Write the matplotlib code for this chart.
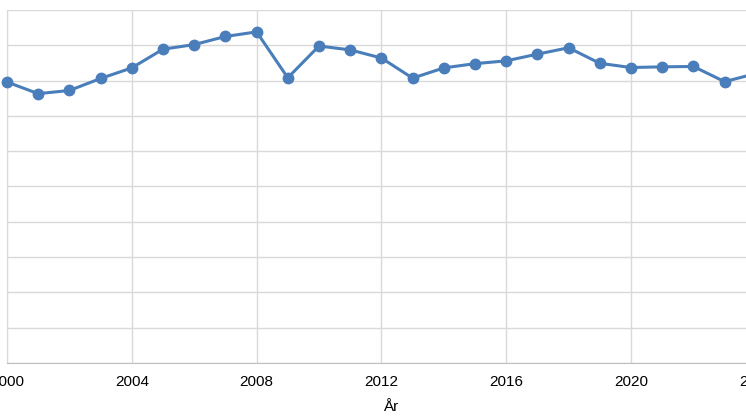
import matplotlib.pyplot as plt
from matplotlib.ticker import MultipleLocator, NullFormatter

# Data (relative units, 0-100 scale)
years = list(range(2000, 2025))
values = [79.6, 76.3, 77.2, 80.6, 83.6, 88.9, 90.2, 92.5, 93.8, 80.8,
          89.8, 88.7, 86.4, 80.7, 83.6, 84.8, 85.6, 87.5, 89.3, 84.9,
          83.7, 83.9, 84.0, 79.7, 82.0]

W, H = 746, 419
fig = plt.figure(figsize=(W / 100, H / 100), dpi=100)

# axes run off the right edge, like the cropped reference
px_per_year = 31.2
xmax = 2024.6
ax = fig.add_axes([7 / W, 56 / H, (xmax - 2000) * px_per_year / W, 353 / H])

ax.plot(years, values, color="#4a7ebb", linewidth=2.2, marker="o",
        markersize=7.5, markerfacecolor="#4a7ebb", markeredgecolor="#4a7ebb",
        zorder=3, clip_on=False)

ax.set_xlim(2000, xmax)
ax.set_ylim(0, 100)
ax.xaxis.set_major_locator(MultipleLocator(4))
ax.yaxis.set_major_locator(MultipleLocator(10))
ax.yaxis.set_major_formatter(NullFormatter())
ax.grid(True, color="#d9d9d9", linewidth=1)
ax.set_axisbelow(True)

for side in ["top", "right"]:
    ax.spines[side].set_visible(False)
ax.spines["left"].set_color("#d9d9d9")
ax.spines["bottom"].set_color("#bfbfbf")

ax.tick_params(length=0, labelsize=11, pad=8.5)
for lab in ax.get_xticklabels():
    lab.set_family("Liberation Sans")
ax.set_xlabel("År", fontsize=11, family="Liberation Sans", labelpad=8)

fig.savefig("out.png", dpi=100)
